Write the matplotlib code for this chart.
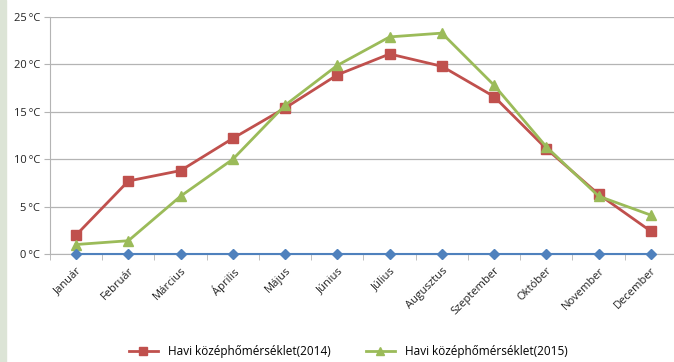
import matplotlib.pyplot as plt
import matplotlib.patches as mpatches

# havi középhőmérséklet adatok
months = ["Január", "Február", "Március", "Április", "Május", "Június",
          "Július", "Augusztus", "Szeptember", "Október", "November", "December"]
temp_2014 = [2.0, 7.7, 8.8, 12.2, 15.4, 18.9, 21.1, 19.8, 16.6, 11.1, 6.3, 2.4]
temp_2015 = [1.0, 1.4, 6.1, 10.0, 15.7, 19.9, 22.9, 23.3, 17.8, 11.3, 6.1, 4.1]
baseline = [0] * 12
y_ticks = [0, 5, 10, 15, 20, 25]

RED = "#C0504D"
GREEN = "#9BBB59"
BLUE = "#4F81BD"
GRID = "#B4B4B4"

plt.rcParams["font.family"] = ["Open Sans", "DejaVu Sans"]

fig = plt.figure(figsize=(6.74, 3.62), dpi=100)
fig.patches.append(mpatches.Rectangle((0, 0), 6 / 674, 1, transform=fig.transFigure,
                                      color="#DCE4D6", zorder=0))

ax = fig.add_axes([50 / 674, 108 / 362, 627 / 674, 237 / 362])
x = range(len(months))

ax.plot(x, baseline, color=BLUE, lw=1.5, marker="D", ms=5, zorder=6, clip_on=False)
l14, = ax.plot(x, temp_2014, color=RED, lw=2, marker="s", ms=7, zorder=4,
               label="Havi középhőmérséklet(2014)", clip_on=False)
l15, = ax.plot(x, temp_2015, color=GREEN, lw=2, marker="^", ms=7, zorder=5,
               label="Havi középhőmérséklet(2015)", clip_on=False)

ax.set_xlim(-0.5, 11.5)
ax.set_ylim(0, 25)
ax.set_yticks(y_ticks)
ax.set_yticklabels([f"{t}\u2009°C" for t in y_ticks], fontsize=8, color="#222222")
ax.yaxis.grid(True, color=GRID, lw=0.9)
ax.set_axisbelow(True)

ax.set_xticks(list(x))
ax.set_xticklabels(months, rotation=45, ha="right", rotation_mode="anchor",
                   fontsize=8, color="#222222")
ax.tick_params(axis="x", length=0, pad=8)
ax.set_xticks([i + 0.5 for i in range(-1, 12)], minor=True)
ax.tick_params(axis="x", which="minor", length=4, color=GRID, direction="out")
ax.tick_params(axis="y", length=4, color=GRID, pad=3)

for side in ["top", "right"]:
    ax.spines[side].set_visible(False)
ax.spines["left"].set_color(GRID)
ax.spines["bottom"].set_color(GRID)

fig.legend(handles=[l14, l15], loc="center", bbox_to_anchor=(348 / 674, 10 / 362),
           ncol=2, frameon=False, fontsize=8.5, handlelength=2.5, columnspacing=3,
           markerscale=0.9)

fig.savefig("out.png", dpi=100)
